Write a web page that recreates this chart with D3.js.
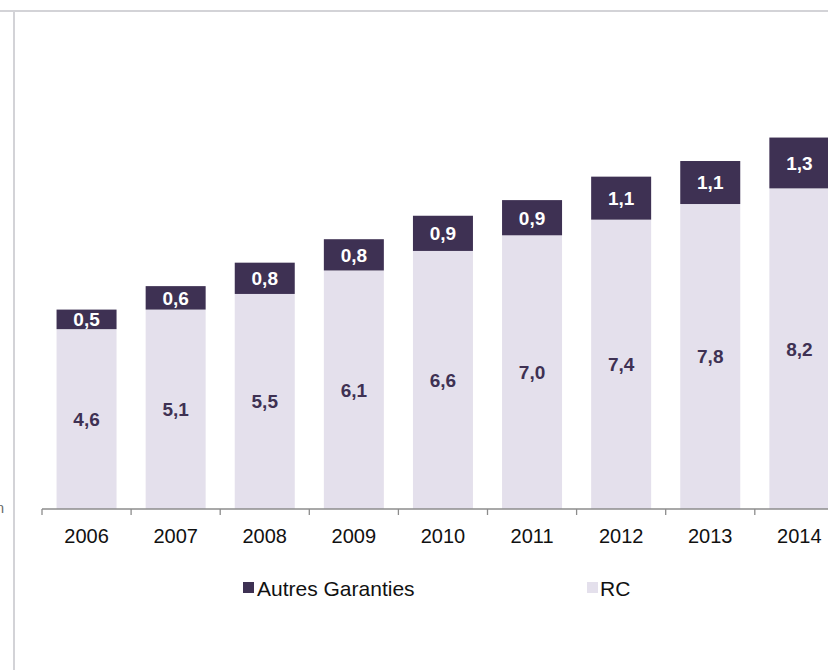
<!DOCTYPE html>
<html>
<head>
<meta charset="utf-8">
<script src="https://cdn.jsdelivr.net/npm/d3@7"></script>
<style>
  html, body { margin: 0; padding: 0; background: #ffffff; }
  svg { display: block; font-family: "Liberation Sans", Arial, sans-serif; }
</style>
</head>
<body>
<svg id="chart" width="828" height="670"></svg>
<script>
// ---- data ----
const years = ["2006", "2007", "2008", "2009", "2010", "2011", "2012", "2013", "2014"];
const rcValues = [4.6, 5.1, 5.5, 6.1, 6.6, 7.0, 7.4, 7.8, 8.2];
const autresValues = [0.5, 0.6, 0.8, 0.8, 0.9, 0.9, 1.1, 1.1, 1.3];
const seriesNames = ["Autres Garanties", "RC"];
const seriesColors = ["#3e3153", "#e4e0ec"];

const svg = d3.select("#chart");

// frame lines (cropped slide border)
svg.append("line").attr("x1", 0).attr("x2", 828).attr("y1", 11).attr("y2", 11)
  .attr("stroke", "#d3d3d7").attr("stroke-width", 2);
svg.append("line").attr("x1", 14).attr("x2", 14).attr("y1", 12).attr("y2", 670)
  .attr("stroke", "#d3d3d7").attr("stroke-width", 2);

// cut-off fragment at the left edge
svg.append("text").attr("x", 4).attr("y", 513).attr("text-anchor", "end")
  .attr("font-size", 14).attr("fill", "#666").text("n");

const x0 = 42, step = 89.1;
const x = d3.scaleBand().domain(years).range([x0, x0 + step * years.length])
  .paddingInner(0.3266).paddingOuter(0.1633);
const baseY = 509;
const y = d3.scaleLinear().domain([0, 10]).range([baseY, baseY - 391]);

const rows = years.map((yr, i) => ({ year: yr, rc: rcValues[i], autres: autresValues[i] }));
const stack = d3.stack().keys(["rc", "autres"])(rows);

const colorFor = { rc: seriesColors[1], autres: seriesColors[0] };
const labelColor = { rc: "#3e3153", autres: "#ffffff" };

stack.forEach(layer => {
  const g = svg.append("g");
  g.selectAll("rect").data(layer).join("rect")
    .attr("x", d => x(d.data.year))
    .attr("width", x.bandwidth())
    .attr("y", d => y(d[1]))
    .attr("height", d => y(d[0]) - y(d[1]))
    .attr("fill", colorFor[layer.key]);
  g.selectAll("text").data(layer).join("text")
    .attr("x", d => x(d.data.year) + x.bandwidth() / 2)
    .attr("y", d => (y(d[0]) + y(d[1])) / 2)
    .attr("dy", "0.36em")
    .attr("text-anchor", "middle")
    .attr("font-size", 19)
    .attr("font-weight", "bold")
    .attr("fill", labelColor[layer.key])
    .text(d => d3.format(".1f")(d[1] - d[0]).replace(".", ","));
});

// x axis
const axis = d3.axisBottom(x).tickSize(0).tickPadding(0);
const ag = svg.append("g").attr("transform", `translate(0,${baseY})`).call(axis);
ag.select(".domain").remove();
ag.selectAll("text").attr("font-size", 20).attr("fill", "#111")
  .attr("font-family", "\"Liberation Sans\", Arial, sans-serif")
  .attr("y", 34).attr("dy", 0);
ag.append("line").attr("x1", x0).attr("x2", 828).attr("y1", 0).attr("y2", 0)
  .attr("stroke", "#8c8c8c").attr("stroke-width", 1.3);
const boundaries = years.map(yr => x(yr) - (x.step() - x.bandwidth()) / 2);
ag.selectAll("line.bt").data(boundaries).join("line").attr("class", "bt")
  .attr("x1", d => d).attr("x2", d => d).attr("y1", 0).attr("y2", 6)
  .attr("stroke", "#8c8c8c").attr("stroke-width", 1.3);

// legend
const legendItems = [
  { name: seriesNames[0], color: seriesColors[0], mx: 243, tx: 257 },
  { name: seriesNames[1], color: seriesColors[1], mx: 587, tx: 600 }
];
const lg = svg.append("g");
legendItems.forEach(it => {
  lg.append("rect").attr("x", it.mx).attr("y", 582).attr("width", 11).attr("height", 11)
    .attr("fill", it.color);
  lg.append("text").attr("x", it.tx).attr("y", 596).attr("font-size", 21)
    .attr("fill", "#111").text(it.name);
});
</script>
</body>
</html>
